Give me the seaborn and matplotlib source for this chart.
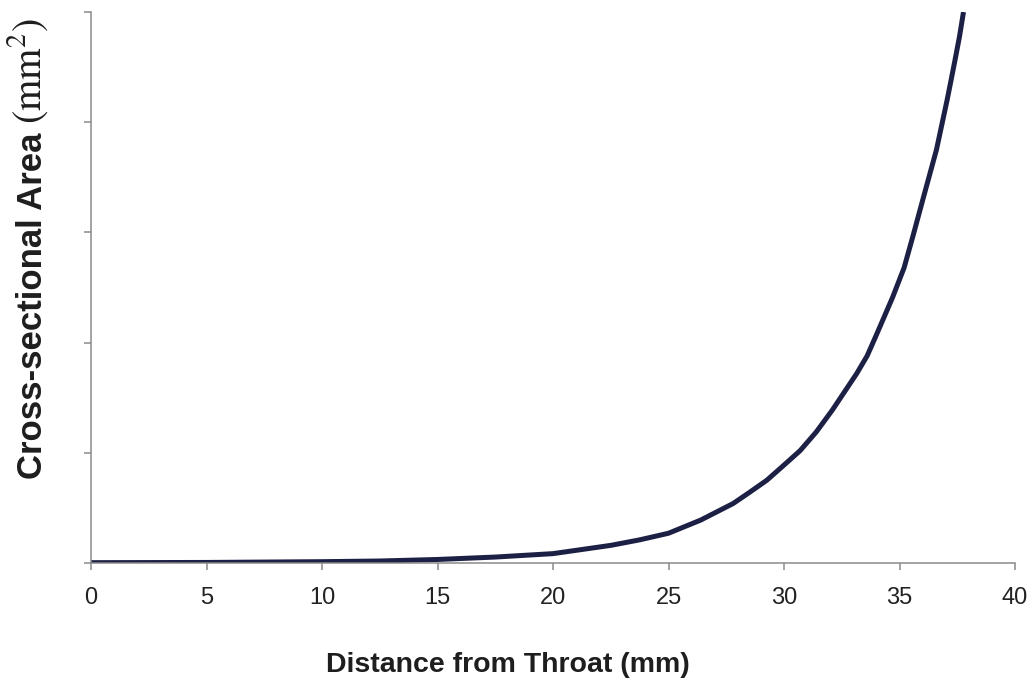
import matplotlib
matplotlib.use("Agg")
import matplotlib.pyplot as plt
import seaborn as sns

# Data (area in arbitrary units; y axis unlabeled)
distance = [0, 5, 10, 12.5, 15, 17.5, 20, 22.5, 23.75, 25, 26.4, 27.8, 28.5,
            29.25, 29.9, 30.7, 31.4, 32.1, 33.15, 33.6, 34.0, 34.35, 34.7,
            35.2, 35.6, 36.0, 36.3, 36.6, 37.06, 37.25, 37.4, 37.6, 37.77]
area = [0.3, 0.5, 1.2, 1.8, 3.2, 5.4, 8.5, 16, 21, 27, 39, 54, 64,
        75, 87, 102, 119, 139, 172, 188, 207, 224, 241,
        268, 298, 329, 352, 375, 420, 440, 456, 478, 500]
x_ticks = [0, 5, 10, 15, 20, 25, 30, 35, 40]
y_ticks = [0, 100, 200, 300, 400, 500]

sns.set_style("ticks")
plt.rcParams['font.family'] = ['Liberation Sans', 'DejaVu Sans']
plt.rcParams['mathtext.fontset'] = 'stix'

fig = plt.figure(figsize=(10.32, 6.8), dpi=100)
ax = fig.add_axes([91/1032, (680-563)/680, 924/1032, 551/680])

sns.lineplot(x=distance, y=area, ax=ax, color="#1d2045", linewidth=3.6,
             solid_capstyle='butt', solid_joinstyle='round')

ax.set_xlim(0, 40)
ax.set_ylim(0, 500)
ax.set_xticks(x_ticks)
ax.set_xticklabels([str(t) for t in x_ticks])
ax.set_yticks(y_ticks)
ax.set_yticklabels([])
ax.set_ylabel("")

for s in ["top", "right"]:
    ax.spines[s].set_visible(False)
for s in ["left", "bottom"]:
    ax.spines[s].set_color("#8a8a8a")
    ax.spines[s].set_linewidth(1.1)

ax.tick_params(axis='x', direction='out', length=5, width=1.1, color="#8a8a8a",
               labelsize=17, labelcolor="#222222", pad=12)
ax.tick_params(axis='y', direction='out', length=5, width=1.1, color="#8a8a8a")

ax.set_xlabel("Distance from Throat (mm)", fontsize=20.5, fontweight='bold',
              color="#1e1e1e")
ax.xaxis.set_label_coords(0.451, -0.162)

# y label: bold sans part + serif unit part
W, H = 1032, 680
t1 = fig.text(42 / W, (H - 479) / H, "Cross-sectional Area", rotation=90,
              rotation_mode='anchor', ha='left', va='baseline', fontsize=25,
              fontweight='bold', color="#1e1e1e")
fig.canvas.draw()
bb = t1.get_window_extent(fig.canvas.get_renderer())
top_px = bb.y1  # display coords from bottom
fig.text(42 / W, (top_px + 9) / H, r"$\mathrm{(mm^2)}$", rotation=90,
         rotation_mode='anchor', ha='left', va='baseline', fontsize=29,
         color="#1e1e1e")

fig.savefig("out.png", dpi=100)
